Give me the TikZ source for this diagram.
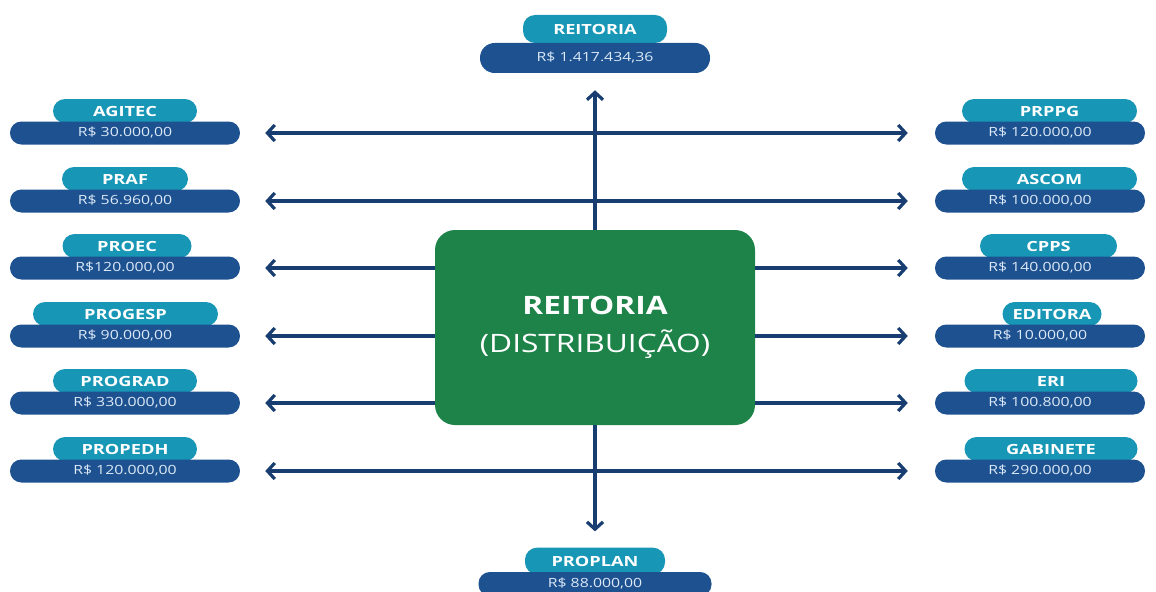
\documentclass[tikz,border=0pt]{standalone}
\usepackage{fontspec}
\setmainfont{Open Sans}[FakeStretch=1.25]
\newfontfamily\siglafont{Open Sans}[FakeStretch=1.3]
\usetikzlibrary{arrows.meta}
\definecolor{azulbarra}{HTML}{1D5190}
\definecolor{azulsigla}{HTML}{1797B5}
\definecolor{azulseta}{HTML}{183D70}
\definecolor{verdecentro}{HTML}{1D8348}
\definecolor{textovalor}{HTML}{DCE9F7}

\begin{document}
\begin{tikzpicture}
		[x=0.75pt, y=-0.75pt,
		valor/.style = {fill=azulbarra, rounded corners=8.5pt, minimum width=172.5pt, minimum height=17.25pt, inner sep=0pt, text=textovalor, font=\fontsize{9.5}{10}\selectfont},
		sigla/.style = {fill=azulsigla, rounded corners=9pt, minimum height=18pt, inner sep=0pt, text=white, font=\siglafont\bfseries\fontsize{10.5}{11}\selectfont},
		centro/.style = {fill=verdecentro, rounded corners=15pt, minimum width=240pt, minimum height=146.25pt, align=center, text=white, font=\fontsize{19}{28.5}\selectfont},
		seta/.style = {draw=azulseta, line width=2.4pt, -{Straight Barb[length=5.5pt,width=12pt]}},
		seta dupla/.style = {draw=azulseta, line width=2.4pt, {Straight Barb[length=5.5pt,width=12pt]}-{Straight Barb[length=5.5pt,width=12pt]}}]
	\useasboundingbox (0,0) rectangle (1156,592);
	% centro
	\node[centro] (centro) at (595,327.5) {\textbf{REITORIA}\\(DISTRIBUIÇÃO)};
	% topo e base
	\node[sigla, minimum width=108pt, minimum height=21pt] (reitoria-sigla) at (595,29) {REITORIA};
	\node[valor, minimum height=22.5pt, rounded corners=11pt] (reitoria) at (595,58) {R\$ 1.417.434,36};
	\node[sigla, minimum width=105pt, minimum height=20pt] (proplan-sigla) at (595,561) {PROPLAN};
	\node[valor, minimum width=174.75pt, minimum height=18pt] (proplan) at (595,584) {R\$ 88.000,00};
	% lado esquerdo
	\node[sigla, minimum width=108pt] (agitec-sigla) at (125,111) {AGITEC};
	\node[valor] (agitec) at (125,133) {R\$ 30.000,00};
	\node[sigla, minimum width=94.5pt] (praf-sigla) at (125,179) {PRAF};
	\node[valor] (praf) at (125,201) {R\$ 56.960,00};
	\node[sigla, minimum width=96.75pt] (proec-sigla) at (127,246) {PROEC};
	\node[valor] (proec) at (125,268) {R\$120.000,00};
	\node[sigla, minimum width=138.75pt] (progesp-sigla) at (125.5,314) {PROGESP};
	\node[valor] (progesp) at (125,336) {R\$ 90.000,00};
	\node[sigla, minimum width=108pt] (prograd-sigla) at (125,381) {PROGRAD};
	\node[valor] (prograd) at (125,403) {R\$ 330.000,00};
	\node[sigla, minimum width=108pt] (propedh-sigla) at (125,449) {PROPEDH};
	\node[valor] (propedh) at (125,471) {R\$ 120.000,00};
	% lado direito
	\node[sigla, minimum width=131.25pt] (prppg-sigla) at (1049.5,111) {PRPPG};
	\node[valor, minimum width=157.5pt] (prppg) at (1040,133) {R\$ 120.000,00};
	\node[sigla, minimum width=131.25pt] (ascom-sigla) at (1049.5,179) {ASCOM};
	\node[valor, minimum width=157.5pt] (ascom) at (1040,201) {R\$ 100.000,00};
	\node[sigla, minimum width=102.75pt] (cpps-sigla) at (1048.5,246) {CPPS};
	\node[valor, minimum width=157.5pt] (cpps) at (1040,268) {R\$ 140.000,00};
	\node[sigla, minimum width=74.25pt] (editora-sigla) at (1052,314) {EDITORA};
	\node[valor, minimum width=157.5pt] (editora) at (1040,336) {R\$ 10.000,00};
	\node[sigla, minimum width=129.75pt] (eri-sigla) at (1051,381) {ERI};
	\node[valor, minimum width=157.5pt] (eri) at (1040,403) {R\$ 100.800,00};
	\node[sigla, minimum width=129.75pt] (gabinete-sigla) at (1051,449) {GABINETE};
	\node[valor, minimum width=157.5pt] (gabinete) at (1040,471) {R\$ 290.000,00};
	% setas
	\draw[seta, shorten >=12.75pt] (centro) -- (reitoria);
	\draw[seta, shorten >=12pt] (centro) -- (proplan-sigla);
	\draw[seta dupla, shorten <=18.75pt, shorten >=20.25pt] (agitec) -- (prppg);
	\draw[seta dupla, shorten <=18.75pt, shorten >=20.25pt] (praf) -- (ascom);
	\draw[seta dupla, shorten <=18.75pt, shorten >=20.25pt] (propedh) -- (gabinete);
	\draw[seta, shorten >=18.75pt] (centro.west |- proec) -- (proec);
	\draw[seta, shorten >=18.75pt] (centro.west |- progesp) -- (progesp);
	\draw[seta, shorten >=18.75pt] (centro.west |- prograd) -- (prograd);
	\draw[seta, shorten >=20.25pt] (centro.east |- cpps) -- (cpps);
	\draw[seta, shorten >=20.25pt] (centro.east |- editora) -- (editora);
	\draw[seta, shorten >=20.25pt] (centro.east |- eri) -- (eri);
\end{tikzpicture}
\end{document}
